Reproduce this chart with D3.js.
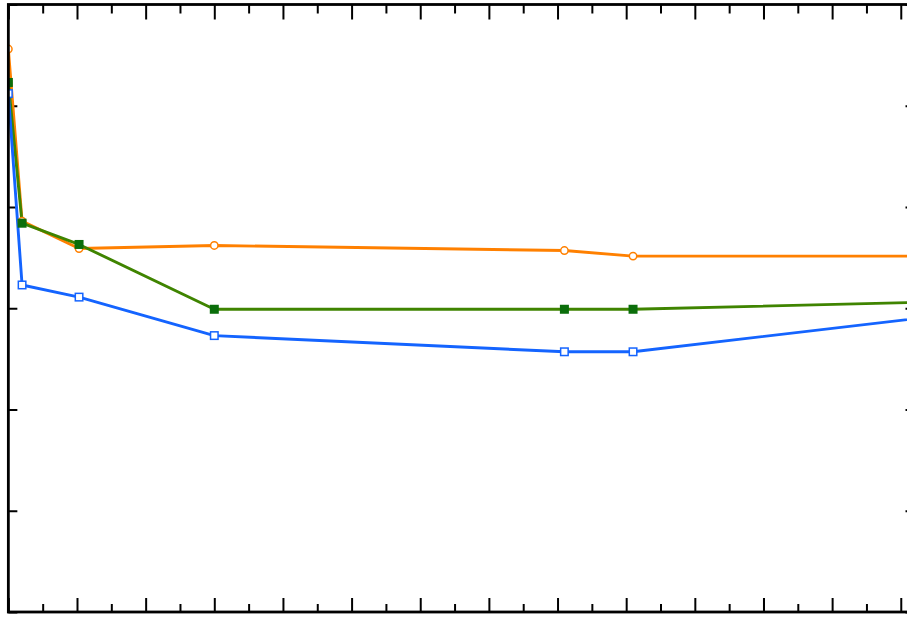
<!DOCTYPE html>
<html>
<head>
<meta charset="utf-8">
<script src="https://cdn.jsdelivr.net/npm/d3@7"></script>
<style>
  html, body { margin: 0; padding: 0; background: #fff; }
  svg { display: block; }
</style>
</head>
<body>
<svg id="chart" width="907" height="617"></svg>
<script>
// Sample positions along the horizontal axis
const xValues = [0, 0.2, 1.03, 3, 8.1, 9.1, 14];

// Three measured series
const seriesA = [5.56, 3.86, 3.59, 3.62, 3.57, 3.515, 3.515]; // orange, open circles
const seriesB = [5.23, 3.84, 3.63, 2.99, 2.99, 2.99, 3.07];   // green, filled squares
const seriesC = [5.12, 3.23, 3.11, 2.73, 2.57, 2.57, 2.96];   // blue, open squares

// Axis tick values (labels are not shown)
const xMajorTicks = d3.range(0, 14, 1);
const xMinorTicks = d3.range(0.5, 13.2, 1);
const yTicks = [0, 1, 2, 3, 4, 5, 6];

const svg = d3.select("#chart");

const plotLeft = 8.35, plotRight = 914.5, plotTop = 4.5, plotBottom = 612;
const x = d3.scaleLinear().domain([0, 13.2]).range([plotLeft, plotRight]);
const y = d3.scaleLinear().domain([0, 6]).range([plotBottom, plotTop]);

svg.append("defs").append("clipPath").attr("id", "plotClip")
  .append("rect")
  .attr("x", plotLeft).attr("y", plotTop)
  .attr("width", plotRight - plotLeft).attr("height", plotBottom - plotTop);

// Tick marks, all pointing into the plot
function drawAxis(axis, transform, size) {
  const g = svg.append("g").attr("transform", transform)
    .call(axis.tickSizeOuter(0).tickFormat("").tickSize(size));
  g.select(".domain").remove();
  g.selectAll(".tick line").attr("stroke", "#000").attr("stroke-width", 2);
  return g;
}
drawAxis(d3.axisTop(x).tickValues(xMajorTicks), `translate(0,${plotTop})`, -15);
drawAxis(d3.axisTop(x).tickValues(xMinorTicks), `translate(0,${plotTop})`, -9);
drawAxis(d3.axisBottom(x).tickValues(xMajorTicks), `translate(0,${plotBottom})`, -14);
drawAxis(d3.axisBottom(x).tickValues(xMinorTicks), `translate(0,${plotBottom})`, -8);
drawAxis(d3.axisLeft(y).tickValues(yTicks), `translate(${plotLeft},0)`, -9);
drawAxis(d3.axisRight(y).tickValues(yTicks), `translate(${plotRight},0)`, -9);

const line = d3.line().x((d, i) => x(xValues[i])).y(d => y(d));
const plot = svg.append("g").attr("clip-path", "url(#plotClip)");

const series = [
  { values: seriesA, line: "#ff8000", marker: "circle", fill: "#fff", stroke: "#ff8000" },
  { values: seriesB, line: "#3f8400", marker: "square", fill: "#0b6e0b", stroke: "#0b6e0b" },
  { values: seriesC, line: "#1464ff", marker: "square", fill: "#fff", stroke: "#1464ff" }
];

series.forEach(s => {
  plot.append("path")
    .datum(s.values)
    .attr("d", line)
    .attr("fill", "none")
    .attr("stroke", s.line)
    .attr("stroke-width", 2.9)
    .attr("stroke-linejoin", "round");
});

// Markers drawn above the lines, in series order
series.forEach(s => {
  const g = plot.append("g");
  if (s.marker === "circle") {
    g.selectAll("circle").data(s.values).join("circle")
      .attr("cx", (d, i) => x(xValues[i]))
      .attr("cy", d => y(d))
      .attr("r", 3.7)
      .attr("fill", s.fill)
      .attr("stroke", s.stroke)
      .attr("stroke-width", 1.5);
  } else {
    const size = 7.5;
    g.selectAll("rect").data(s.values).join("rect")
      .attr("x", (d, i) => x(xValues[i]) - size / 2)
      .attr("y", d => y(d) - size / 2)
      .attr("width", size).attr("height", size)
      .attr("fill", s.fill)
      .attr("stroke", s.stroke)
      .attr("stroke-width", 1.5);
  }
});

// Plot frame
svg.append("rect")
  .attr("x", plotLeft).attr("y", plotTop)
  .attr("width", plotRight - plotLeft).attr("height", plotBottom - plotTop)
  .attr("fill", "none")
  .attr("stroke", "#000")
  .attr("stroke-width", 2.8);
</script>
</body>
</html>
